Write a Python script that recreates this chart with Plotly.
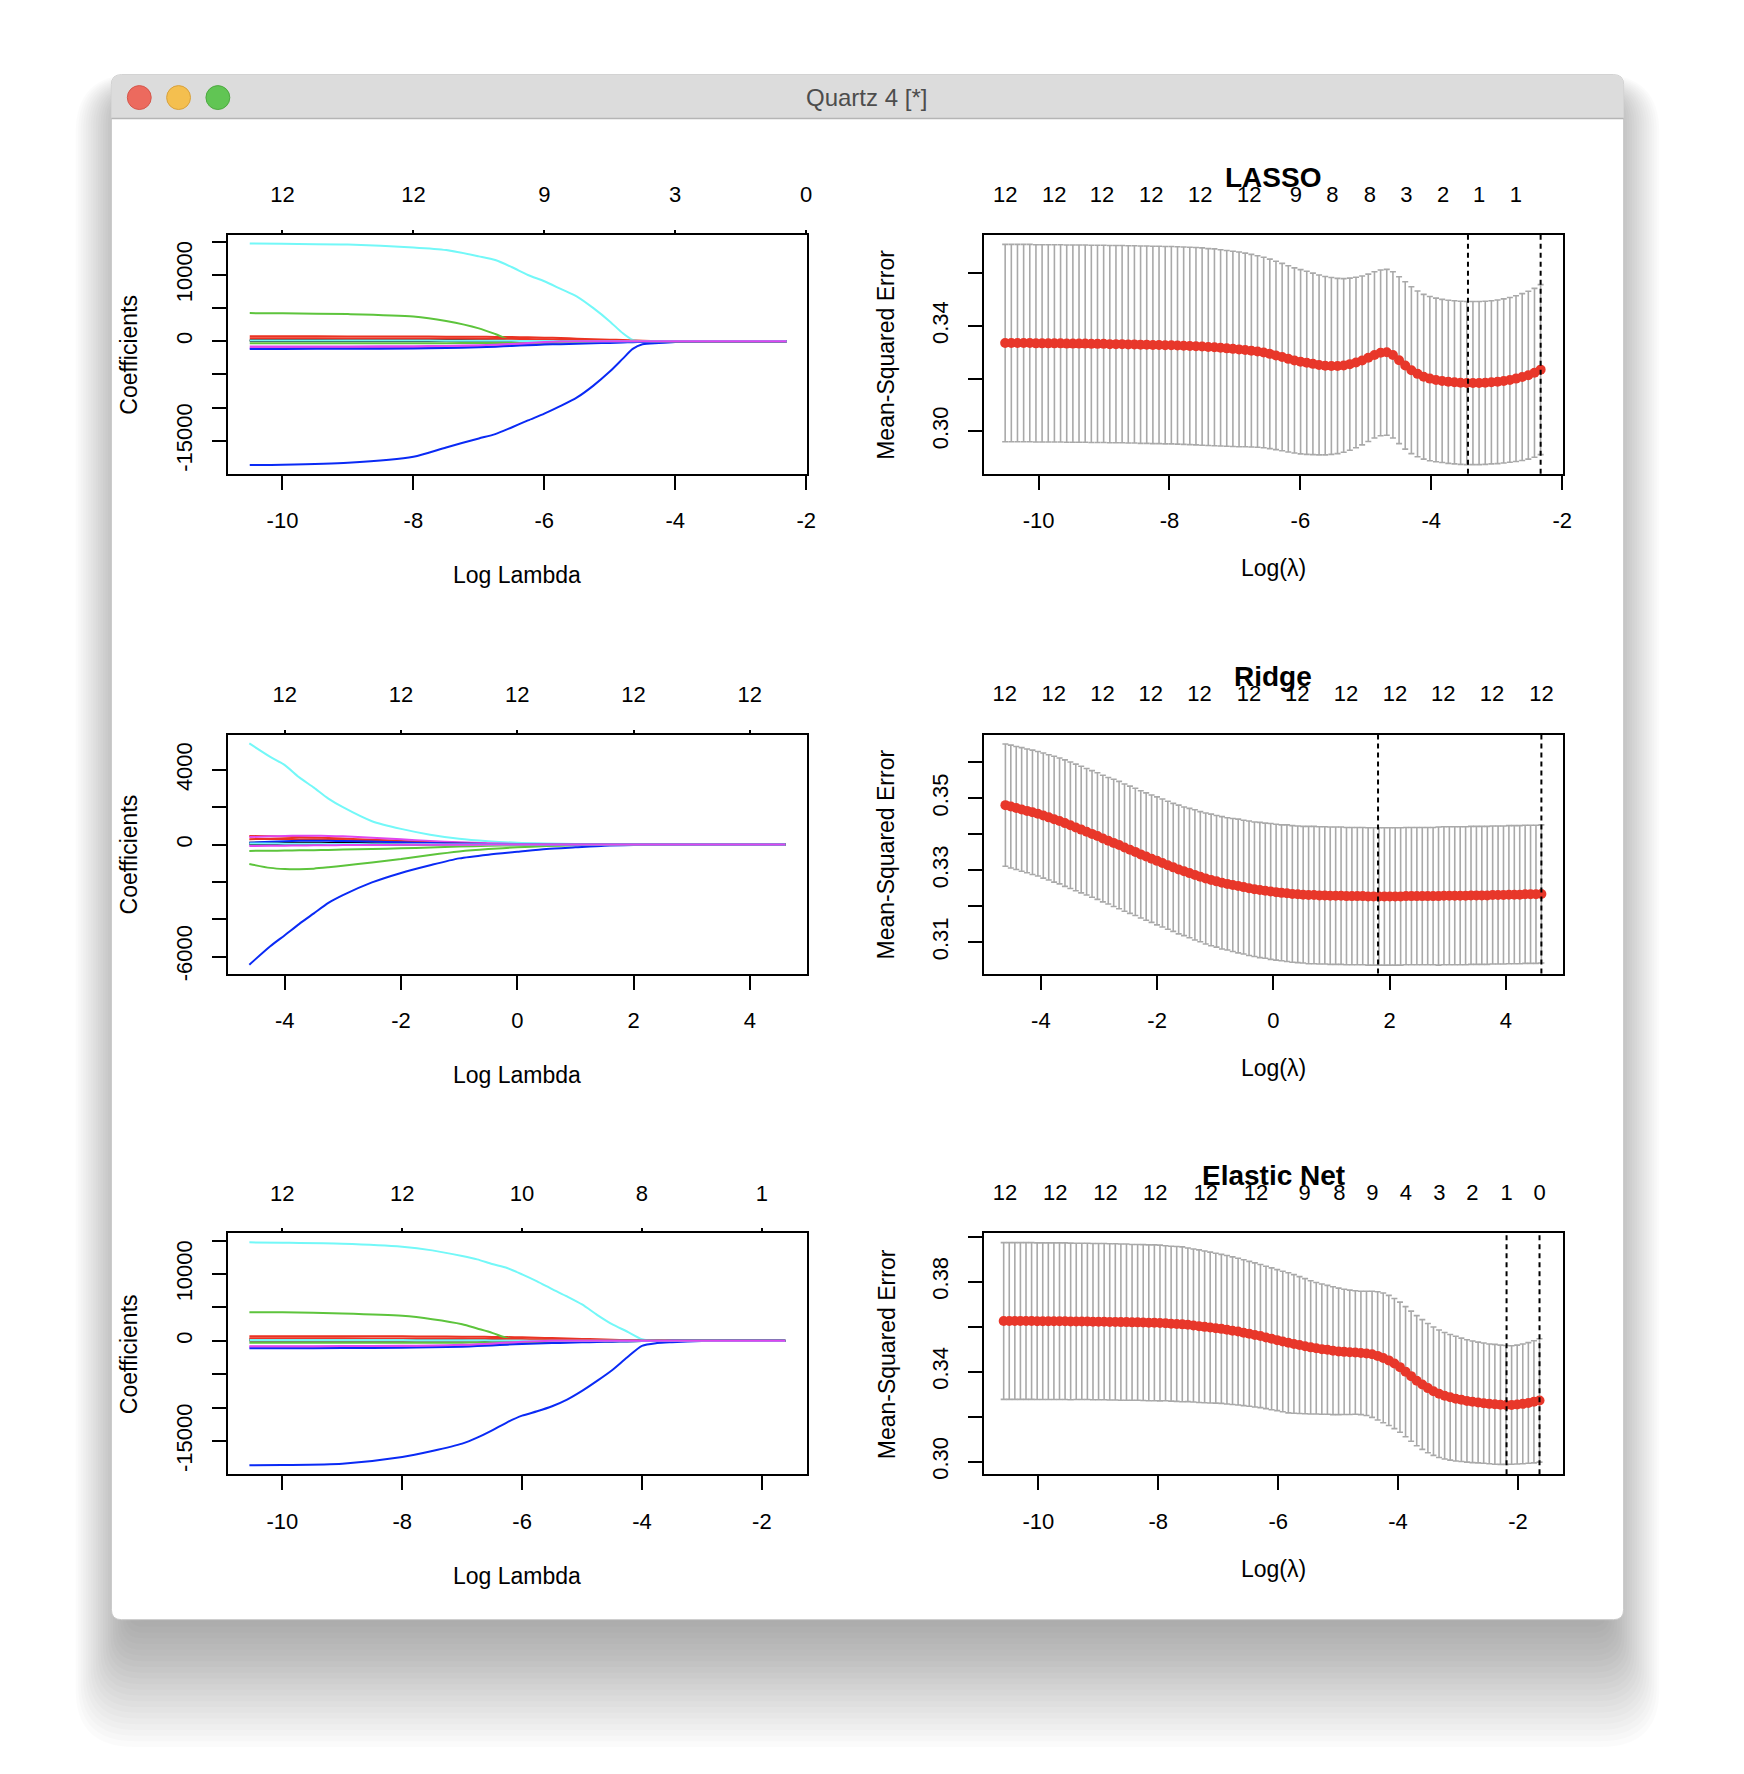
import numpy as np
import plotly.graph_objects as go

W, H = 1744, 1774
FONT = "Liberation Sans, Arial, Helvetica, sans-serif"

# R matplot colours 1:6 (as Quartz renders them), recycled over the 12 coefficients
PATH_COLORS = ["#000000", "#EA3323", "#5DC43C", "#0A2AF5", "#73F8F8", "#E046F0"]
CV_RED = "#E8372A"
CV_GRAY = "#A9A9A9"

# ---------------- LASSO ----------------
lasso_path_x = [-10.5, -10.0, -9.0, -8.0, -7.5, -7.0, -6.75, -6.5, -6.25, -6.0, -5.75,
                -5.5, -5.25, -5.0, -4.8, -4.65, -4.5, -4.25, -4.0, -3.5, -3.0, -2.3]
lasso_coef = [
    [200, 200, 200, 195, 190, 180, 170, 160, 130, 100, 70, 45, 25, 12, 5, 0, 0, 0, 0, 0, 0, 0],
    [750, 750, 740, 720, 700, 680, 660, 640, 600, 550, 480, 400, 320, 250, 180, 120, 80, 40, 10, 0, 0, 0],
    [4250, 4220, 4100, 3750, 3050, 1950, 1100, 150, 0, 0, 0, 0, 0, 0, 0, 0, 0, 0, 0, 0, 0, 0],
    [-18650, -18600, -18300, -17400, -16000, -14650, -13990, -12990, -11930, -10910, -9750,
     -8460, -6680, -4570, -2610, -1150, -450, -250, -100, 0, 0, 0],
    [14750, 14700, 14600, 14150, 13750, 12800, 12250, 11200, 10000, 9050, 7900,
     6750, 5000, 3000, 1200, 200, 0, 0, 0, 0, 0, 0],
    [-1000, -1000, -980, -950, -900, -820, -740, -600, -450, -300, -180, -80, -20, 0, 0, 0, 0, 0, 0, 0, 0, 0],
    [60, 60, 55, 50, 45, 40, 35, 30, 25, 20, 15, 10, 5, 0, 0, 0, 0, 0, 0, 0, 0, 0],
    [450, 450, 440, 430, 420, 400, 380, 360, 330, 300, 260, 220, 180, 140, 110, 80, 60, 30, 10, 0, 0, 0],
    [-300, -300, -300, -290, -280, -270, -260, -250, -230, -200, -170, -140, -110, -80, -60, -40, -30, -10, 0, 0, 0, 0],
    [-1150, -1150, -1130, -1080, -1000, -900, -820, -700, -600, -500, -430, -360, -300, -240, -180, -130, -90, -40, -10, 0, 0, 0],
    [120, 120, 115, 110, 100, 90, 80, 70, 55, 40, 25, 10, 0, 0, 0, 0, 0, 0, 0, 0, 0, 0],
    [-800, -800, -780, -740, -690, -600, -520, -400, -250, -120, -40, 0, 0, 0, 0, 0, 0, 0, 0, 0, 0, 0],
]
lasso_df_at = [-10, -8, -6, -4, -2]
lasso_df = ["12", "12", "9", "3", "0"]

lasso_cv_span = [-10.51, -2.33]
lasso_mse = [
    0.3335, 0.3335, 0.3335, 0.3335, 0.3335, 0.3334, 0.3334, 0.3334, 0.3334, 0.3334,
    0.3333, 0.3333, 0.3333, 0.3333, 0.3332, 0.3332, 0.3332, 0.3331, 0.3331, 0.3331,
    0.3330, 0.3330, 0.3329, 0.3329, 0.3328, 0.3328, 0.3327, 0.3327, 0.3326, 0.3325,
    0.3324, 0.3323, 0.3322, 0.3320, 0.3319, 0.3317, 0.3315, 0.3313, 0.3311, 0.3309,
    0.3306, 0.3303, 0.3299, 0.3294, 0.3288, 0.3282, 0.3275, 0.3269, 0.3264, 0.3260,
    0.3256, 0.3252, 0.3249, 0.3248, 0.3248, 0.3250, 0.3255, 0.3261, 0.3269, 0.3279,
    0.3290, 0.3298, 0.3300, 0.3290, 0.3270, 0.3250, 0.3232, 0.3218, 0.3207, 0.3200,
    0.3195, 0.3191, 0.3188, 0.3186, 0.3184, 0.3183, 0.3183, 0.3183, 0.3184, 0.3186,
    0.3188, 0.3191, 0.3195, 0.3200, 0.3206, 0.3213, 0.3222, 0.3234,
]
lasso_sd = [
    0.0375, 0.0375, 0.0375, 0.0375, 0.0375, 0.0375, 0.0375, 0.0375, 0.0375, 0.0375,
    0.0375, 0.0375, 0.0375, 0.0375, 0.0375, 0.0375, 0.0375, 0.0375, 0.0375, 0.0375,
    0.0375, 0.0375, 0.0375, 0.0375, 0.0375, 0.0375, 0.0375, 0.0375, 0.0375, 0.0375,
    0.0375, 0.0375, 0.0375, 0.0374, 0.0374, 0.0373, 0.0372, 0.0371, 0.0370, 0.0368,
    0.0366, 0.0364, 0.0362, 0.0360, 0.0358, 0.0356, 0.0354, 0.0352, 0.0350, 0.0348,
    0.0345, 0.0342, 0.0339, 0.0336, 0.0333, 0.0330, 0.0327, 0.0324, 0.0321, 0.0318,
    0.0316, 0.0315, 0.0315, 0.0316, 0.0317, 0.0318, 0.0317, 0.0315, 0.0313, 0.0312,
    0.0311, 0.0310, 0.0310, 0.0310, 0.0310, 0.0310, 0.0310, 0.0310, 0.0310, 0.0310,
    0.0311, 0.0312, 0.0313, 0.0315, 0.0317, 0.0319, 0.0321, 0.0323,
]
lasso_nz_at = [-10.51, -9.76, -9.03, -8.28, -7.53, -6.78, -6.07, -5.51, -4.94, -4.38, -3.82, -3.27, -2.71]
lasso_nz = ["12", "12", "12", "12", "12", "12", "9", "8", "8", "3", "2", "1", "1"]
lasso_lambda = [-3.44, -2.33]  # lambda.min, lambda.1se

# ---------------- Ridge ----------------
ridge_path_x = [-4.61, -4.25, -4.0, -3.75, -3.5, -3.25, -3.0, -2.5, -2.0, -1.5,
                -1.0, -0.5, 0.0, 0.5, 1.0, 1.5, 2.0, 3.0, 4.61]
ridge_coef = [
    [20, 20, 20, 20, 18, 16, 14, 10, 7, 5, 3, 2, 1, 0, 0, 0, 0, 0, 0],
    [460, 440, 420, 400, 380, 350, 320, 260, 190, 130, 80, 50, 25, 12, 6, 3, 1, 0, 0],
    [-1040, -1250, -1310, -1320, -1290, -1220, -1140, -960, -780, -560, -370, -240, -150, -80, -40, -18, -8, -2, 0],
    [-6440, -5450, -4860, -4250, -3690, -3130, -2710, -2030, -1520, -1110, -740, -540, -390, -240, -150, -65, -30, -8, 0],
    [5420, 4700, 4260, 3600, 3050, 2460, 2000, 1250, 840, 530, 310, 180, 95, 55, 30, 15, 8, 2, 0],
    [400, 440, 460, 470, 470, 460, 440, 370, 280, 190, 120, 70, 35, 15, 7, 3, 1, 0, 0],
    [100, 105, 105, 100, 95, 90, 85, 70, 55, 40, 25, 15, 8, 4, 2, 1, 0, 0, 0],
    [290, 300, 300, 290, 280, 260, 240, 190, 140, 95, 60, 35, 18, 9, 4, 2, 1, 0, 0],
    [-340, -330, -320, -310, -300, -285, -270, -240, -200, -160, -110, -70, -40, -20, -10, -5, -2, 0, 0],
    [100, 150, 180, 200, 205, 200, 190, 160, 120, 85, 55, 32, 17, 8, 4, 2, 1, 0, 0],
    [60, 55, 50, 45, 40, 35, 30, 22, 15, 10, 6, 3, 2, 1, 0, 0, 0, 0, 0],
    [-80, -70, -60, -50, -40, -35, -30, -22, -15, -10, -6, -3, -2, -1, 0, 0, 0, 0, 0],
]
ridge_df_at = [-4, -2, 0, 2, 4]
ridge_df = ["12", "12", "12", "12", "12"]

ridge_cv_span = [-4.61, 4.61]
ridge_mse = [
    0.3481, 0.3477, 0.3473, 0.3469, 0.3465, 0.3461, 0.3457, 0.3452, 0.3447, 0.3442,
    0.3437, 0.3431, 0.3425, 0.3419, 0.3413, 0.3407, 0.3401, 0.3395, 0.3388, 0.3382,
    0.3376, 0.3370, 0.3363, 0.3357, 0.3351, 0.3344, 0.3338, 0.3332, 0.3326, 0.3320,
    0.3314, 0.3308, 0.3302, 0.3297, 0.3292, 0.3287, 0.3282, 0.3277, 0.3273, 0.3269,
    0.3265, 0.3262, 0.3259, 0.3256, 0.3253, 0.3250, 0.3247, 0.3245, 0.3243, 0.3241,
    0.3239, 0.3237, 0.3236, 0.3234, 0.3233, 0.3232, 0.3231, 0.3231, 0.3230, 0.3230,
    0.3229, 0.3229, 0.3229, 0.3228, 0.3228, 0.3228, 0.3228, 0.3227, 0.3227, 0.3227,
    0.3227, 0.3227, 0.3227, 0.3227, 0.3228, 0.3228, 0.3228, 0.3228, 0.3228, 0.3228,
    0.3228, 0.3229, 0.3229, 0.3229, 0.3229, 0.3229, 0.3230, 0.3230, 0.3230, 0.3230,
    0.3231, 0.3231, 0.3231, 0.3232, 0.3232, 0.3232, 0.3233, 0.3233, 0.3233, 0.3234,
]
ridge_sd = [
    0.0170, 0.0171, 0.0171, 0.0172, 0.0172, 0.0173, 0.0173, 0.0174, 0.0174, 0.0175,
    0.0175, 0.0176, 0.0176, 0.0176, 0.0176, 0.0176, 0.0176, 0.0176, 0.0176, 0.0176,
    0.0177, 0.0177, 0.0177, 0.0177, 0.0177, 0.0177, 0.0177, 0.0177, 0.0178, 0.0178,
    0.0178, 0.0178, 0.0179, 0.0179, 0.0180, 0.0181, 0.0181, 0.0182, 0.0183, 0.0183,
    0.0184, 0.0184, 0.0185, 0.0186, 0.0186, 0.0187, 0.0187, 0.0188, 0.0188, 0.0189,
    0.0189, 0.0189, 0.0190, 0.0190, 0.0190, 0.0190, 0.0191, 0.0191, 0.0191, 0.0191,
    0.0191, 0.0191, 0.0191, 0.0191, 0.0191, 0.0191, 0.0191, 0.0191, 0.0191, 0.0191,
    0.0191, 0.0191, 0.0191, 0.0191, 0.0191, 0.0191, 0.0191, 0.0191, 0.0191, 0.0191,
    0.0192, 0.0192, 0.0192, 0.0192, 0.0192, 0.0192, 0.0192, 0.0192, 0.0192, 0.0192,
    0.0192, 0.0192, 0.0192, 0.0192, 0.0192, 0.0192, 0.0192, 0.0192, 0.0192, 0.0192,
]
ridge_nz_at = [-4.62, -3.78, -2.94, -2.11, -1.27, -0.42, 0.41, 1.25, 2.09, 2.92, 3.76, 4.61]
ridge_nz = ["12", "12", "12", "12", "12", "12", "12", "12", "12", "12", "12", "12"]
ridge_lambda = [1.80, 4.61]

# ---------------- Elastic Net ----------------
enet_path_x = [-10.55, -10.0, -9.0, -8.0, -7.5, -7.0, -6.75, -6.5, -6.25, -6.0, -5.75, -5.5,
               -5.25, -5.0, -4.75, -4.5, -4.25, -4.0, -3.75, -3.5, -3.0, -2.5, -1.61]
enet_coef = [
    [200, 200, 200, 195, 190, 180, 170, 160, 140, 110, 85, 60, 40, 25, 12, 5, 0, 0, 0, 0, 0, 0, 0],
    [700, 700, 690, 670, 650, 630, 610, 590, 560, 520, 470, 410, 350, 290, 230, 170, 120, 70, 35, 10, 0, 0, 0],
    [4300, 4280, 4100, 3750, 3250, 2500, 1850, 1200, 400, 0, 0, 0, 0, 0, 0, 0, 0, 0, 0, 0, 0, 0, 0],
    [-18650, -18600, -18400, -17400, -16500, -15400, -14500, -13400, -12200, -11200, -10550, -9800,
     -8800, -7500, -6000, -4400, -2500, -750, -330, -200, -40, 0, 0],
    [14750, 14700, 14550, 14100, 13550, 12700, 12200, 11500, 10900, 9950, 8900, 7750,
     6650, 5450, 3900, 2500, 1400, 250, 0, 0, 0, 0, 0],
    [-900, -900, -880, -850, -800, -730, -660, -560, -420, -280, -160, -70, -20, 0, 0, 0, 0, 0, 0, 0, 0, 0, 0],
    [60, 60, 55, 50, 45, 40, 35, 30, 25, 20, 15, 10, 5, 0, 0, 0, 0, 0, 0, 0, 0, 0, 0],
    [380, 380, 370, 360, 350, 335, 320, 305, 285, 260, 230, 200, 170, 140, 110, 80, 55, 30, 12, 0, 0, 0, 0],
    [-300, -300, -300, -290, -280, -270, -260, -250, -235, -215, -195, -175, -150, -125, -100, -80, -60, -40, -25, -10, 0, 0, 0],
    [-1100, -1100, -1080, -1030, -960, -870, -790, -680, -570, -470, -400, -340, -280, -220, -170, -120, -80, -40, -15, 0, 0, 0, 0],
    [120, 120, 115, 110, 100, 90, 80, 70, 55, 40, 25, 10, 0, 0, 0, 0, 0, 0, 0, 0, 0, 0, 0],
    [-800, -800, -780, -740, -690, -600, -520, -400, -260, -130, -50, 0, 0, 0, 0, 0, 0, 0, 0, 0, 0, 0, 0],
]
enet_df_at = [-10, -8, -6, -4, -2]
enet_df = ["12", "12", "10", "8", "1"]

enet_cv_span = [-10.58, -1.64]
enet_mse = [
    0.3625, 0.3625, 0.3625, 0.3625, 0.3625, 0.3625, 0.3624, 0.3624, 0.3624, 0.3624,
    0.3624, 0.3624, 0.3623, 0.3623, 0.3623, 0.3623, 0.3622, 0.3622, 0.3622, 0.3621,
    0.3621, 0.3620, 0.3620, 0.3619, 0.3619, 0.3618, 0.3617, 0.3617, 0.3616, 0.3615,
    0.3613, 0.3612, 0.3610, 0.3608, 0.3605, 0.3602, 0.3599, 0.3596, 0.3593, 0.3590,
    0.3586, 0.3582, 0.3578, 0.3573, 0.3568, 0.3563, 0.3558, 0.3552, 0.3546, 0.3540,
    0.3534, 0.3528, 0.3523, 0.3518, 0.3513, 0.3508, 0.3504, 0.3500, 0.3497, 0.3493,
    0.3490, 0.3488, 0.3486, 0.3485, 0.3483, 0.3481, 0.3477, 0.3470, 0.3461, 0.3450,
    0.3436, 0.3420, 0.3400, 0.3380, 0.3360, 0.3343, 0.3327, 0.3313, 0.3302, 0.3293,
    0.3286, 0.3280, 0.3275, 0.3270, 0.3266, 0.3263, 0.3260, 0.3257, 0.3255, 0.3253,
    0.3252, 0.3252, 0.3254, 0.3257, 0.3261, 0.3266, 0.3272,
]
enet_sd = [
    0.0348, 0.0348, 0.0348, 0.0348, 0.0348, 0.0348, 0.0348, 0.0348, 0.0348, 0.0348,
    0.0348, 0.0348, 0.0348, 0.0347, 0.0347, 0.0347, 0.0347, 0.0347, 0.0347, 0.0347,
    0.0347, 0.0347, 0.0347, 0.0346, 0.0346, 0.0346, 0.0346, 0.0346, 0.0346, 0.0344,
    0.0344, 0.0344, 0.0344, 0.0341, 0.0340, 0.0339, 0.0337, 0.0335, 0.0333, 0.0331,
    0.0330, 0.0328, 0.0326, 0.0324, 0.0322, 0.0320, 0.0318, 0.0316, 0.0315, 0.0313,
    0.0312, 0.0311, 0.0308, 0.0304, 0.0300, 0.0296, 0.0292, 0.0289, 0.0286, 0.0284,
    0.0281, 0.0278, 0.0276, 0.0274, 0.0274, 0.0276, 0.0280, 0.0285, 0.0288, 0.0289,
    0.0289, 0.0289, 0.0289, 0.0289, 0.0289, 0.0288, 0.0287, 0.0285, 0.0283, 0.0281,
    0.0279, 0.0277, 0.0274, 0.0272, 0.0270, 0.0268, 0.0267, 0.0266, 0.0266, 0.0265,
    0.0264, 0.0263, 0.0264, 0.0266, 0.0268, 0.0271, 0.0274,
]
enet_nz_at = [-10.56, -9.72, -8.88, -8.05, -7.21, -6.37, -5.56, -4.98, -4.43, -3.87, -3.31, -2.76, -2.19, -1.64]
enet_nz = ["12", "12", "12", "12", "12", "12", "9", "8", "9", "4", "3", "2", "1", "0"]
enet_lambda = [-2.19, -1.64]

# ---------------- page geometry (pixels) ----------------
WIN = (112, 75, 1632, 1627)
TITLEBAR_H = 44
BOXES = [(229, 236, 811, 476), (989, 236, 1571, 476),
         (229, 738, 811, 978), (989, 738, 1571, 978),
         (229, 1239, 811, 1481), (989, 1239, 1571, 1481)]


def fx(px):
    return px / W


def fy(py):
    return 1 - py / H


def rounded_path(x0, y0, x1, y1, r, top_only=False):
    def p(x, y):
        return f"{fx(x):.5f},{fy(y):.5f}"
    rb = 0 if top_only else r
    return (f"M {p(x0 + r, y0)} L {p(x1 - r, y0)} Q {p(x1, y0)} {p(x1, y0 + r)} "
            f"L {p(x1, y1 - rb)} Q {p(x1, y1)} {p(x1 - rb, y1)} L {p(x0 + rb, y1)} "
            f"Q {p(x0, y1)} {p(x0, y1 - rb)} L {p(x0, y0 + r)} Q {p(x0, y0)} {p(x0 + r, y0)} Z")


tick_font = dict(family=FONT, size=22, color="black")
lab_font = dict(family=FONT, size=23, color="black")

panels = [
    dict(kind="path", x=lasso_path_x, coef=lasso_coef, xr=[-10.835, -1.99], yr=[-19984, 16034],
         xt=[-10, -8, -6, -4, -2], yt=[-15000, -10000, -5000, 0, 5000, 10000, 15000],
         ytl=["-15000", "", "", "0", "", "10000", ""], top_at=lasso_df_at, top=lasso_df),
    dict(kind="cv", span=lasso_cv_span, mse=lasso_mse, sd=lasso_sd, lam=lasso_lambda,
         xr=[-10.835, -1.99], yr=[0.2838, 0.3746], xt=[-10, -8, -6, -4, -2],
         yt=[0.30, 0.32, 0.34, 0.36], ytl=["0.30", "", "0.34", ""],
         top_at=lasso_nz_at, top=lasso_nz, title="LASSO"),
    dict(kind="path", x=ridge_path_x, coef=ridge_coef, xr=[-4.98, 4.98], yr=[-6916, 5890],
         xt=[-4, -2, 0, 2, 4], yt=[-6000, -4000, -2000, 0, 2000, 4000],
         ytl=["-6000", "", "", "0", "", "4000"], top_at=ridge_df_at, top=ridge_df),
    dict(kind="cv", span=ridge_cv_span, mse=ridge_mse, sd=ridge_sd, lam=ridge_lambda,
         xr=[-4.98, 4.98], yr=[0.30125, 0.3677], xt=[-4, -2, 0, 2, 4],
         yt=[0.31, 0.32, 0.33, 0.34, 0.35, 0.36], ytl=["0.31", "", "0.33", "", "0.35", ""],
         top_at=ridge_nz_at, top=ridge_nz, title="Ridge"),
    dict(kind="path", x=enet_path_x, coef=enet_coef, xr=[-10.91, -1.25], yr=[-19990, 16090],
         xt=[-10, -8, -6, -4, -2], yt=[-15000, -10000, -5000, 0, 5000, 10000, 15000],
         ytl=["-15000", "", "", "0", "", "10000", ""], top_at=enet_df_at, top=enet_df),
    dict(kind="cv", span=enet_cv_span, mse=enet_mse, sd=enet_sd, lam=enet_lambda,
         xr=[-10.91, -1.25], yr=[0.2944, 0.4014], xt=[-10, -8, -6, -4, -2],
         yt=[0.30, 0.32, 0.34, 0.36, 0.38, 0.40], ytl=["0.30", "", "0.34", "", "0.38", ""],
         top_at=enet_nz_at, top=enet_nz, title="Elastic Net"),
]

fig = go.Figure()
layout = {}
shapes = []
annotations = []

# window shadow, window and title bar
x0w, y0w, x1w, y1w = WIN
for k in range(1, 25):
    s = 2.5 * k
    shapes.append(dict(type="path", xref="paper", yref="paper", layer="below",
                       path=rounded_path(x0w + 24 - s, y0w + 30 - 0.5 * s, x1w - 24 + s, y1w - 10 + 2.3 * s, 10 + 0.8 * s),
                       fillcolor="black", opacity=0.015, line=dict(width=0)))
shapes.append(dict(type="path", xref="paper", yref="paper", layer="below",
                   path=rounded_path(x0w, y0w, x1w, y1w, 10), fillcolor="white",
                   line=dict(color="#C9C9C9", width=1)))
shapes.append(dict(type="path", xref="paper", yref="paper", layer="below",
                   path=rounded_path(x0w, y0w, x1w, y0w + TITLEBAR_H, 10, top_only=True),
                   fillcolor="#DCDCDC", line=dict(width=0)))
shapes.append(dict(type="line", xref="paper", yref="paper", layer="below",
                   x0=fx(x0w), x1=fx(x1w), y0=fy(y0w + TITLEBAR_H), y1=fy(y0w + TITLEBAR_H),
                   line=dict(color="#B5B5B5", width=1.5)))
for cx, fill, edge in [(140, "#EC6A5E", "#D5574C"), (179.5, "#F4BF4F", "#D8A13C"), (219, "#61C554", "#4DA940")]:
    shapes.append(dict(type="circle", xref="paper", yref="paper", layer="below",
                       x0=fx(cx - 12), x1=fx(cx + 12), y0=fy(98 + 12), y1=fy(98 - 12),
                       fillcolor=fill, line=dict(color=edge, width=1)))
annotations.append(dict(text="Quartz 4 [*]", x=fx(871), y=fy(98), xref="paper", yref="paper",
                        showarrow=False, xanchor="center", yanchor="middle",
                        font=dict(family=FONT, size=24, color="#4D4D4D")))

for i, (p, box) in enumerate(zip(panels, BOXES), start=1):
    bx0, by0, bx1, by1 = box
    xa, ya, xt = f"x{i}", f"y{i}", f"x{i + 6}"
    if p["kind"] == "path":
        for j, ys in enumerate(p["coef"]):
            fig.add_trace(go.Scatter(x=p["x"], y=ys, mode="lines", xaxis=xa, yaxis=ya,
                                     line=dict(color=PATH_COLORS[j % 6], width=2, shape="spline", smoothing=0.7),
                                     hoverinfo="skip"))
    else:
        xs = np.linspace(p["span"][0], p["span"][1], len(p["mse"]))
        fig.add_trace(go.Scatter(x=xs, y=p["mse"], mode="markers", xaxis=xa, yaxis=ya,
                                 marker=dict(color=CV_RED, size=10, line=dict(width=0)),
                                 error_y=dict(type="data", array=p["sd"], symmetric=True,
                                              color=CV_GRAY, thickness=1.6, width=3)))
        for lam in p["lam"]:
            shapes.append(dict(type="line", xref=xa, yref=f"{ya} domain", x0=lam, x1=lam, y0=0, y1=1,
                               line=dict(color="black", width=2, dash="5px,4px")))
    # invisible carrier so the top (count) axis gets drawn
    fig.add_trace(go.Scatter(x=p["top_at"], y=[p["yr"][0]] * len(p["top_at"]), mode="markers",
                             marker=dict(opacity=0), xaxis=xt, yaxis=ya, hoverinfo="skip"))

    layout[f"xaxis{i}"] = dict(
        domain=[fx(bx0), fx(bx1)], range=p["xr"], anchor=ya,
        tickvals=p["xt"], ticktext=[f"{v:d}" for v in p["xt"]],
        ticks="outside", ticklen=14, tickwidth=2, tickcolor="black",
        showline=True, mirror=True, linewidth=2, linecolor="black",
        showgrid=False, zeroline=False, tickfont=tick_font, ticklabelstandoff=12)
    layout[f"yaxis{i}"] = dict(
        domain=[fy(by1), fy(by0)], range=p["yr"], anchor=xa,
        tickvals=p["yt"], ticktext=p["ytl"], tickangle=-90,
        ticks="outside", ticklen=14, tickwidth=2, tickcolor="black",
        showline=True, mirror=True, linewidth=2, linecolor="black",
        showgrid=False, zeroline=False, tickfont=tick_font, ticklabelstandoff=11)
    layout[f"xaxis{i + 6}"] = dict(
        overlaying=xa, side="top", anchor=ya, range=p["xr"],
        tickvals=p["top_at"], ticktext=p["top"],
        ticks="outside" if p["kind"] == "path" else "", ticklen=4, tickwidth=2, tickcolor="black",
        showline=False, showgrid=False, zeroline=False, tickfont=tick_font,
        ticklabelstandoff=19 if p["kind"] == "path" else 28)

    cx = (bx0 + bx1) / 2
    cy = (by0 + by1) / 2
    if p["kind"] == "path":
        annotations.append(dict(text="Log Lambda", x=fx(cx), y=fy(by1 + 102)))
        annotations.append(dict(text="Coefficients", x=fx(bx0 - 99), y=fy(cy), textangle=-90))
    else:
        annotations.append(dict(text="Log(\u03bb)", x=fx(cx), y=fy(by1 + 95)))
        annotations.append(dict(text="Mean-Squared Error", x=fx(bx0 - 98), y=fy(cy), textangle=-90))
        annotations.append(dict(text=f"<b>{p['title']}</b>", x=fx(cx), y=fy(by0 - 58),
                                font=dict(family=FONT, size=28, color="black")))

for a in annotations:
    a.setdefault("xref", "paper")
    a.setdefault("yref", "paper")
    a.setdefault("showarrow", False)
    a.setdefault("xanchor", "center")
    a.setdefault("yanchor", "middle")
    a.setdefault("font", lab_font)

fig.update_layout(width=W, height=H, margin=dict(l=0, r=0, t=0, b=0), autosize=False,
                  paper_bgcolor="white", plot_bgcolor="rgba(0,0,0,0)", showlegend=False,
                  shapes=shapes, annotations=annotations, **layout)

fig.write_html("out.html", config={"displayModeBar": False},
               post_script="document.body.style.margin='0';")
